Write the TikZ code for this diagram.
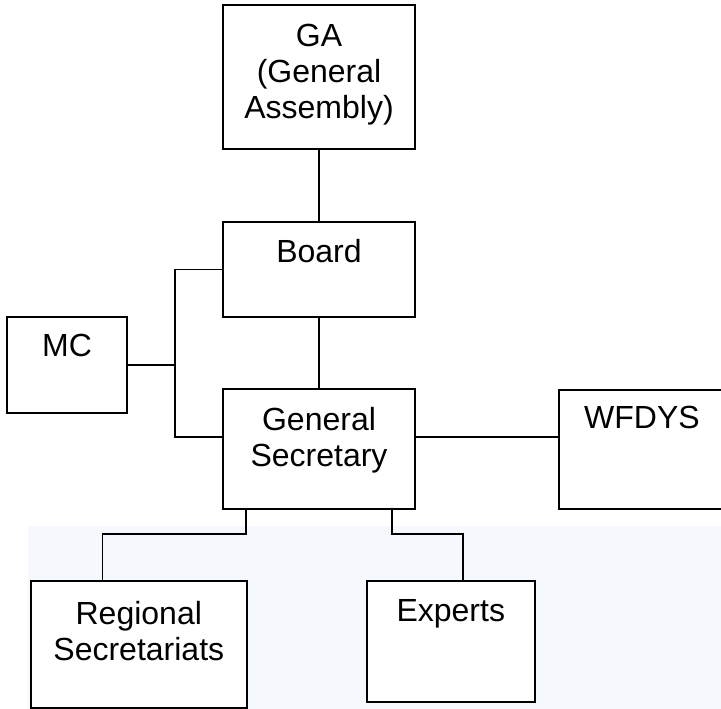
\documentclass[tikz,border=0pt]{standalone}
\usepackage{fontspec}
\setmainfont{Liberation Sans}
\definecolor{paleblue}{RGB}{245,249,253}
\tikzset{
  orgbox/.style={draw, line width=1.8pt, fill=white, inner sep=0pt},
  orgtext/.style={anchor=north, inner sep=0pt, align=center, font=\fontsize{32}{36}\selectfont},
  link/.style={line width=1.8pt}
}

\begin{document}
\begin{tikzpicture}[x=1pt, y=-1pt]%
  \useasboundingbox (0,0) rectangle (721,709);%
  \fill[paleblue] (27.5,525.5) rectangle (721,709);%
  % boxes
  \node[orgbox, minimum width=192.3pt, minimum height=144pt] (GA) at (319,77) {};
  \node[orgbox, minimum width=192.3pt, minimum height=95.6pt] (Board) at (319,269.5) {};
  \node[orgbox, minimum width=120.6pt, minimum height=96pt] (MC) at (67,365.3) {};
  \node[orgbox, minimum width=192.3pt, minimum height=120pt] (GS) at (319,449.3) {};
  \node[orgbox, minimum width=166pt, minimum height=119pt] (WFDYS) at (642,449.5) {};
  \node[orgbox, minimum width=216pt, minimum height=127.6pt] (RS) at (138.8,644.5) {};
  \node[orgbox, minimum width=167.8pt, minimum height=121pt] (Exp) at (450.8,641.2) {};
  % texts
  \node[orgtext] (GA-t) at ([yshift=-20pt]GA.north) {GA\\(General\\Assembly)};
  \node[orgtext] (Board-t) at ([yshift=-18pt]Board.north) {Board};
  \node[orgtext] (MC-t) at ([yshift=-18pt]MC.north) {MC};
  \node[orgtext] (GS-t) at ([yshift=-19pt]GS.north) {General\\Secretary};
  \node[orgtext] (WFDYS-t) at ([yshift=-17pt]WFDYS.north) {WFDYS};
  \node[orgtext] (RS-t) at ([yshift=-21pt]RS.north) {Regional\\Secretariats};
  \node[orgtext] (Exp-t) at ([yshift=-19.5pt]Exp.north) {Experts};
  % links
  \coordinate (spine) at (175,300);
  \draw[link] (GA.south) -- (Board.north);
  \draw[link] (Board.south) -- (GS.north);
  \draw[link] (Board.west) -- (Board.west -| spine) |- ([yshift=12pt]GS.west);
  \draw[link] (MC.east) -- (MC.east -| spine);
  \draw[link] ([yshift=12pt]GS.east) -- ([yshift=12pt]GS.east -| WFDYS.west);
  \draw[link] ([xshift=24pt]GS.south west) -- ++(0,24) -| ([xshift=-36.3pt]RS.north);
  \draw[link] ([xshift=-24pt]GS.south east) -- ++(0,24) -| ([xshift=12.2pt]Exp.north);
\end{tikzpicture}
\end{document}
